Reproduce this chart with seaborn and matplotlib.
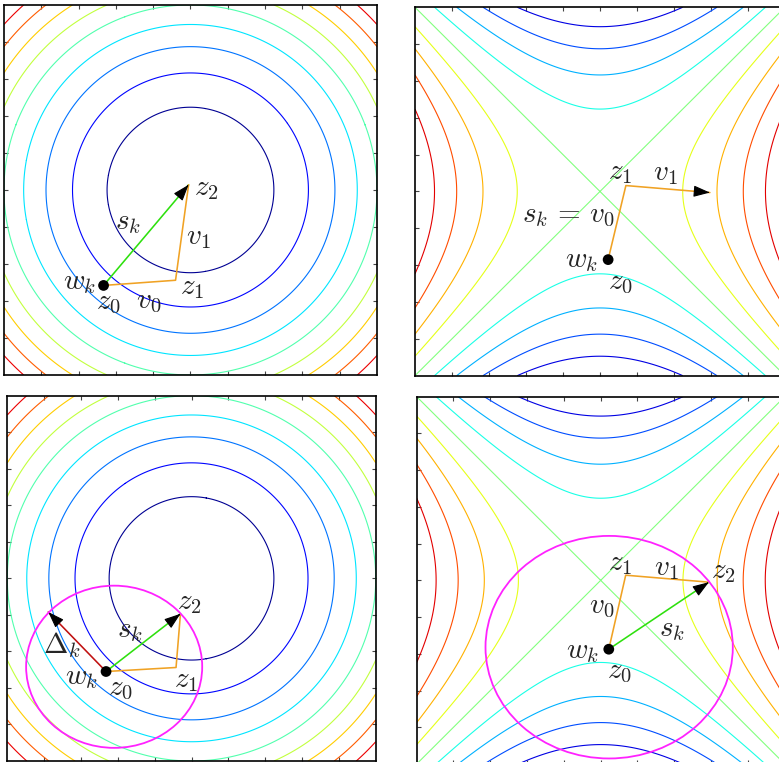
import numpy as np
import matplotlib
matplotlib.use("Agg")
import matplotlib.pyplot as plt
import seaborn as sns
from matplotlib.patches import Ellipse
from matplotlib.colors import LinearSegmentedColormap

sns.set_style("white")
plt.rcParams["mathtext.fontset"] = "cm"
plt.rcParams["font.family"] = ["DejaVu Sans"]

# contour levels
bowl_levels = [5, 10, 15, 20, 25, 30, 35, 40, 45]
saddle_levels = [-20, -15, -10, -5, 0, 5, 10, 15, 20]
tick_pos = [-4, -3, -2, -1, 0, 1, 2, 3, 4]

# top left: bowl, steps end at the minimum
tl_x = [-2.33, -0.40, -0.05]
tl_y = [-2.58, -2.44, 0.14]
# top right: saddle, second step leaves
tr_x = [0.22, 0.70, 2.97]
tr_y = [-1.85, 0.16, -0.03]
# bottom left: bowl with trust region
bl_x = [-2.32, -0.42, -0.30]
bl_y = [-2.55, -2.44, -0.97]
bl_delta = [-3.89, -0.92]
bl_circle = [-2.10, -2.42, 2.39, 2.22]
# bottom right: saddle with trust region
br_x = [0.22, 0.68, 2.94]
br_y = [-1.875, 0.14, -0.05]
br_circle = [0.23, -1.82, 3.36, 3.03]

GREEN = "#2ee00e"
ORANGE = "#f0a224"
RED = "#c01010"
MAGENTA = "#ff22ff"
FS = 21
LW = 1.15

# jet as pgfplots defines it
jet = LinearSegmentedColormap.from_list("pgfjet", [
    (0.0, (0, 0, 0.5)), (0.125, (0, 0, 1)), (0.375, (0, 1, 1)),
    (0.625, (1, 1, 0)), (0.875, (1, 0, 0)), (1.0, (0.5, 0, 0))])

g = np.linspace(-5, 5, 501)
X, Y = np.meshgrid(g, g)
bowl = X**2 + Y**2
saddle = X**2 - Y**2

fig = plt.figure(figsize=(7.79, 7.62), dpi=100)
ax_tl = fig.add_axes([0.0051, 0.5079, 0.4788, 0.4856])
ax_tr = fig.add_axes([0.5327, 0.5070, 0.4750, 0.4835])
ax_bl = fig.add_axes([0.0094, 0.0013, 0.4729, 0.4794])
ax_br = fig.add_axes([0.5349, -0.0026, 0.4724, 0.4820])


def setup(ax, Z, levels, vmin, vmax):
    ax.contour(X, Y, Z, levels=levels, cmap=jet, vmin=vmin, vmax=vmax,
               linewidths=0.8)
    ax.set_xlim(-5, 5)
    ax.set_ylim(-5, 5)
    ax.set_xticks(tick_pos)
    ax.set_yticks(tick_pos)
    ax.tick_params(direction="in", length=2.6, width=0.8, colors="#444444",
                   top=True, right=True, bottom=True, left=True,
                   labelbottom=False, labelleft=False)
    for s in ax.spines.values():
        s.set_color("black")
        s.set_linewidth(1.2)


def head(ax, tip, frm):
    d = np.array(tip) - np.array(frm)
    d = d / np.hypot(*d)
    ax.annotate("", xy=tip, xytext=(tip[0] - 0.05 * d[0], tip[1] - 0.05 * d[1]),
                arrowprops=dict(arrowstyle="-|>,head_length=1.0,head_width=0.35",
                                color="black", lw=0.8, shrinkA=0, shrinkB=0,
                                mutation_scale=10))


def dot(ax, x, y):
    sns.scatterplot(x=[x], y=[y], ax=ax, color="black", s=60, edgecolor="none",
                    zorder=5, legend=False)


def lab(ax, x, y, s):
    ax.text(x, y, s, fontsize=FS, ha="center", va="center", zorder=6)


setup(ax_tl, bowl, bowl_levels, 4, 50)
setup(ax_tr, saddle, saddle_levels, -25, 25)
setup(ax_bl, bowl, bowl_levels, 4, 50)
setup(ax_br, saddle, saddle_levels, -25, 25)

# top left
ax = ax_tl
ax.plot([tl_x[0], tl_x[2]], [tl_y[0], tl_y[2]], color=GREEN, lw=LW)
ax.plot(tl_x, tl_y, color=ORANGE, lw=LW)
head(ax, (tl_x[2], tl_y[2]), (tl_x[0], tl_y[0]))
dot(ax, tl_x[0], tl_y[0])
lab(ax, -1.67, -0.86, r"$s_k$")
lab(ax, 0.22, -1.26, r"$v_1$")
lab(ax, 0.42, 0.05, r"$z_2$")
lab(ax, -2.98, -2.50, r"$w_k$")
lab(ax, -2.20, -3.04, r"$z_0$")
lab(ax, -1.13, -3.01, r"$v_0$")
lab(ax, 0.05, -2.63, r"$z_1$")

# top right
ax = ax_tr
ax.plot(tr_x, tr_y, color=ORANGE, lw=LW)
head(ax, (tr_x[2], tr_y[2]), (tr_x[1], tr_y[1]))
dot(ax, tr_x[0], tr_y[0])
lab(ax, 0.54, 0.54, r"$z_1$")
lab(ax, 1.76, 0.51, r"$v_1$")
lab(ax, -0.86, -0.64, r"$s_k\,=\,v_0$")
lab(ax, -0.49, -1.85, r"$w_k$")
lab(ax, 0.54, -2.46, r"$z_0$")

# bottom left
ax = ax_bl
ax.add_patch(Ellipse((bl_circle[0], bl_circle[1]), 2 * bl_circle[2], 2 * bl_circle[3],
                     fill=False, edgecolor=MAGENTA, lw=1.3, zorder=4))
ax.plot([bl_x[0], bl_delta[0]], [bl_y[0], bl_delta[1]], color=RED, lw=LW)
ax.plot([bl_x[0], bl_x[2]], [bl_y[0], bl_y[2]], color=GREEN, lw=LW)
ax.plot(bl_x, bl_y, color=ORANGE, lw=LW)
head(ax, tuple(bl_delta), (bl_x[0], bl_y[0]))
head(ax, (bl_x[2], bl_y[2]), (bl_x[0], bl_y[0]))
dot(ax, bl_x[0], bl_y[0])
lab(ax, -3.51, -1.83, r"$\Delta_k$")
lab(ax, -1.66, -1.42, r"$s_k$")
lab(ax, -0.05, -0.65, r"$z_2$")
lab(ax, -2.97, -2.69, r"$w_k$")
lab(ax, -1.93, -3.01, r"$z_0$")
lab(ax, -0.16, -2.78, r"$z_1$")

# bottom right
ax = ax_br
ax.add_patch(Ellipse((br_circle[0], br_circle[1]), 2 * br_circle[2], 2 * br_circle[3],
                     fill=False, edgecolor=MAGENTA, lw=1.3, zorder=4))
ax.plot([br_x[0], br_x[2]], [br_y[0], br_y[2]], color=GREEN, lw=LW)
ax.plot(br_x, br_y, color=ORANGE, lw=LW)
head(ax, (br_x[2], br_y[2]), (br_x[0], br_y[0]))
dot(ax, br_x[0], br_y[0])
lab(ax, 0.52, 0.48, r"$z_1$")
lab(ax, 1.79, 0.34, r"$v_1$")
lab(ax, 3.32, 0.25, r"$z_2$")
lab(ax, 0.02, -0.70, r"$v_0$")
lab(ax, 1.95, -1.32, r"$s_k$")
lab(ax, -0.50, -1.92, r"$w_k$")
lab(ax, 0.52, -2.46, r"$z_0$")

fig.savefig("out.png", dpi=100)
